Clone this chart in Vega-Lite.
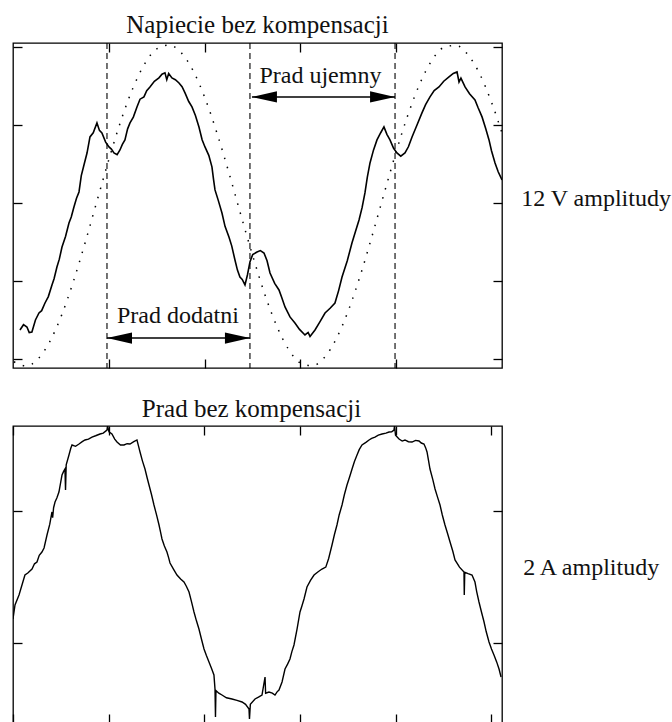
{
  "$schema": "https://vega.github.io/schema/vega-lite/v6.json",
  "padding": {"left": 11, "top": 12, "right": 0, "bottom": 0},
  "background": "white",
  "spacing": 26,
  "config": {
    "view": {"stroke": "black", "strokeWidth": 1.3},
    "font": "Liberation Serif",
    "title": {"font": "Liberation Serif", "fontSize": 25, "fontWeight": "normal", "color": "#111", "baseline": "alphabetic", "offset": 4},
    "axis": {"domain": false, "labels": false, "grid": false, "ticks": true, "tickSize": -9, "tickColor": "black", "tickWidth": 1.3, "tickCap": "butt", "title": null, "titleFont": "Liberation Serif", "titleFontSize": 24, "titleFontWeight": "normal", "titleColor": "#111"}
  },
  "datasets": {
    "napiecie": [
      {"t":0.063,"u":-1.628},{"t":0.10,"u":-1.56},{"t":0.136,"u":-1.590},{"t":0.16,"u":-1.66},{"t":0.188,"u":-1.654},{"t":0.225,"u":-1.50},{"t":0.262,"u":-1.410},{"t":0.29,"u":-1.38},{"t":0.325,"u":-1.282},{"t":0.36,"u":-1.20},{"t":0.398,"u":-1.051},{"t":0.42,"u":-0.97},{"t":0.450,"u":-0.821},{"t":0.475,"u":-0.72},{"t":0.503,"u":-0.564},{"t":0.54,"u":-0.43},{"t":0.576,"u":-0.256},{"t":0.60,"u":-0.18},{"t":0.628,"u":-0.051},{"t":0.655,"u":0.06},{"t":0.681,"u":0.141},{"t":0.705,"u":0.35},{"t":0.733,"u":0.487},{"t":0.765,"u":0.64},{"t":0.796,"u":0.846},{"t":0.83,"u":0.90},{"t":0.869,"u":1.026},{"t":0.895,"u":0.93},{"t":0.921,"u":0.897},{"t":0.96,"u":0.78},{"t":0.995,"u":0.718},{"t":1.02,"u":0.69},{"t":1.047,"u":0.641},{"t":1.08,"u":0.62},{"t":1.110,"u":0.679},{"t":1.135,"u":0.75},{"t":1.162,"u":0.808},{"t":1.19,"u":0.95},{"t":1.215,"u":1.026},{"t":1.25,"u":1.10},{"t":1.288,"u":1.231},{"t":1.32,"u":1.33},{"t":1.361,"u":1.359},{"t":1.39,"u":1.44},{"t":1.424,"u":1.487},{"t":1.47,"u":1.56},{"t":1.518,"u":1.603},{"t":1.55,"u":1.65},{"t":1.581,"u":1.667},{"t":1.60,"u":1.58},{"t":1.62,"u":1.66},{"t":1.654,"u":1.603},{"t":1.69,"u":1.58},{"t":1.728,"u":1.538},{"t":1.76,"u":1.49},{"t":1.791,"u":1.410},{"t":1.83,"u":1.30},{"t":1.864,"u":1.231},{"t":1.90,"u":1.12},{"t":1.937,"u":0.974},{"t":1.97,"u":0.81},{"t":2.0,"u":0.718},{"t":2.04,"u":0.61},{"t":2.073,"u":0.462},{"t":2.09,"u":0.30},{"t":2.105,"u":0.167},{"t":2.14,"u":0.03},{"t":2.178,"u":-0.128},{"t":2.21,"u":-0.30},{"t":2.251,"u":-0.436},{"t":2.28,"u":-0.55},{"t":2.314,"u":-0.731},{"t":2.34,"u":-0.86},{"t":2.366,"u":-0.949},{"t":2.39,"u":-0.98},{"t":2.419,"u":-1.051},{"t":2.445,"u":-0.92},{"t":2.471,"u":-0.756},{"t":2.50,"u":-0.66},{"t":2.545,"u":-0.628},{"t":2.58,"u":-0.61},{"t":2.618,"u":-0.641},{"t":2.65,"u":-0.74},{"t":2.681,"u":-0.897},{"t":2.73,"u":-1.03},{"t":2.775,"u":-1.115},{"t":2.80,"u":-1.20},{"t":2.838,"u":-1.333},{"t":2.89,"u":-1.46},{"t":2.942,"u":-1.538},{"t":2.99,"u":-1.62},{"t":3.047,"u":-1.692},{"t":3.08,"u":-1.66},{"t":3.10,"u":-1.71},{"t":3.152,"u":-1.628},{"t":3.20,"u":-1.53},{"t":3.257,"u":-1.410},{"t":3.31,"u":-1.35},{"t":3.361,"u":-1.282},{"t":3.40,"u":-1.12},{"t":3.435,"u":-0.949},{"t":3.49,"u":-0.74},{"t":3.539,"u":-0.513},{"t":3.575,"u":-0.37},{"t":3.613,"u":-0.218},{"t":3.645,"u":-0.06},{"t":3.675,"u":0.128},{"t":3.70,"u":0.33},{"t":3.728,"u":0.513},{"t":3.765,"u":0.68},{"t":3.801,"u":0.808},{"t":3.84,"u":0.90},{"t":3.874,"u":0.974},{"t":3.905,"u":0.88},{"t":3.937,"u":0.808},{"t":3.975,"u":0.70},{"t":4.010,"u":0.641},{"t":4.05,"u":0.60},{"t":4.094,"u":0.641},{"t":4.13,"u":0.72},{"t":4.168,"u":0.846},{"t":4.22,"u":1.00},{"t":4.272,"u":1.154},{"t":4.31,"u":1.26},{"t":4.356,"u":1.359},{"t":4.40,"u":1.44},{"t":4.450,"u":1.487},{"t":4.50,"u":1.56},{"t":4.555,"u":1.615},{"t":4.60,"u":1.66},{"t":4.639,"u":1.679},{"t":4.66,"u":1.55},{"t":4.68,"u":1.60},{"t":4.723,"u":1.487},{"t":4.77,"u":1.40},{"t":4.827,"u":1.321},{"t":4.86,"u":1.22},{"t":4.901,"u":1.103},{"t":4.94,"u":0.95},{"t":4.974,"u":0.808},{"t":5.00,"u":0.67},{"t":5.037,"u":0.513},{"t":5.07,"u":0.40},{"t":5.110,"u":0.295}
    ],
    "zasilanie": [
      {"t":0.0,"u":-2.035},{"t":0.125,"u":-2.089},{"t":0.25,"u":-2.001},{"t":0.375,"u":-1.777},{"t":0.5,"u":-1.434},{"t":0.625,"u":-0.995},{"t":0.75,"u":-0.489},{"t":0.875,"u":0.050},{"t":1.0,"u":0.583},{"t":1.125,"u":1.073},{"t":1.25,"u":1.485},{"t":1.375,"u":1.796},{"t":1.5,"u":1.979},{"t":1.625,"u":2.024},{"t":1.75,"u":1.927},{"t":1.875,"u":1.697},{"t":2.0,"u":1.345},{"t":2.125,"u":0.898},{"t":2.25,"u":0.390},{"t":2.375,"u":-0.151},{"t":2.5,"u":-0.678},{"t":2.625,"u":-1.166},{"t":2.75,"u":-1.573},{"t":2.875,"u":-1.876},{"t":3.0,"u":-2.051},{"t":3.125,"u":-2.086},{"t":3.25,"u":-1.981},{"t":3.375,"u":-1.740},{"t":3.5,"u":-1.382},{"t":3.625,"u":-0.934},{"t":3.75,"u":-0.421},{"t":3.875,"u":0.118},{"t":4.0,"u":0.649},{"t":4.125,"u":1.129},{"t":4.25,"u":1.530},{"t":4.375,"u":1.826},{"t":4.5,"u":1.993},{"t":4.625,"u":2.020},{"t":4.75,"u":1.905},{"t":4.875,"u":1.658},{"t":5.0,"u":1.291},{"t":5.11,"u":0.898}
    ],
    "granice": [{"t":0.974},{"t":2.471},{"t":3.990}],
    "strzalki": [
      {"t0":2.492,"t1":3.990,"u":1.359},
      {"t0":0.974,"t1":2.471,"u":-1.731}
    ],
    "groty": [
      {"t":2.492,"u":1.359,"kier":"lewo"},
      {"t":3.990,"u":1.359,"kier":"prawo"},
      {"t":0.974,"u":-1.731,"kier":"lewo"},
      {"t":2.471,"u":-1.731,"kier":"prawo"}
    ],
    "opisy": [
      {"t":3.209,"u":1.538,"label":"Prad ujemny"},
      {"t":1.717,"u":-1.538,"label":"Prad dodatni"}
    ],
    "prad": [
      {"t":-0.005,"i":-0.636},{"t":0.016,"i":-0.424},{"t":0.058,"i":-0.273},{"t":0.089,"i":-0.121},{"t":0.120,"i":0.030},{"t":0.15,"i":0.06},{"t":0.194,"i":0.121},{"t":0.22,"i":0.20},{"t":0.246,"i":0.227},{"t":0.27,"i":0.33},{"t":0.298,"i":0.379},{"t":0.32,"i":0.44},{"t":0.351,"i":0.636},{"t":0.38,"i":0.80},{"t":0.403,"i":0.985},{"t":0.41,"i":0.90},{"t":0.42,"i":1.05},{"t":0.435,"i":1.136},{"t":0.455,"i":1.20},{"t":0.476,"i":1.288},{"t":0.49,"i":1.40},{"t":0.508,"i":1.545},{"t":0.525,"i":1.60},{"t":0.539,"i":1.636},{"t":0.545,"i":1.318},{"t":0.552,"i":1.70},{"t":0.581,"i":1.848},{"t":0.60,"i":1.95},{"t":0.613,"i":2.0},{"t":0.65,"i":1.98},{"t":0.686,"i":2.015},{"t":0.72,"i":2.05},{"t":0.749,"i":2.076},{"t":0.785,"i":2.09},{"t":0.822,"i":2.121},{"t":0.86,"i":2.14},{"t":0.906,"i":2.167},{"t":0.94,"i":2.18},{"t":0.979,"i":2.227},{"t":0.985,"i":2.29},{"t":1.0,"i":2.20},{"t":1.031,"i":2.167},{"t":1.06,"i":2.09},{"t":1.084,"i":2.045},{"t":1.12,"i":2.00},{"t":1.157,"i":2.0},{"t":1.19,"i":2.02},{"t":1.220,"i":2.015},{"t":1.26,"i":2.05},{"t":1.293,"i":2.076},{"t":1.31,"i":1.98},{"t":1.325,"i":1.894},{"t":1.35,"i":1.76},{"t":1.377,"i":1.636},{"t":1.40,"i":1.50},{"t":1.419,"i":1.394},{"t":1.445,"i":1.25},{"t":1.471,"i":1.091},{"t":1.50,"i":0.93},{"t":1.524,"i":0.788},{"t":1.54,"i":0.68},{"t":1.555,"i":0.576},{"t":1.58,"i":0.47},{"t":1.607,"i":0.379},{"t":1.625,"i":0.29},{"t":1.639,"i":0.212},{"t":1.675,"i":0.12},{"t":1.712,"i":0.030},{"t":1.75,"i":-0.03},{"t":1.785,"i":-0.076},{"t":1.81,"i":-0.14},{"t":1.838,"i":-0.227},{"t":1.865,"i":-0.38},{"t":1.890,"i":-0.530},{"t":1.915,"i":-0.66},{"t":1.942,"i":-0.788},{"t":1.97,"i":-0.95},{"t":1.995,"i":-1.091},{"t":2.02,"i":-1.19},{"t":2.047,"i":-1.288},{"t":2.075,"i":-1.39},{"t":2.099,"i":-1.485},{"t":2.105,"i":-1.60},{"t":2.110,"i":-1.697},{"t":2.115,"i":-2.121},{"t":2.12,"i":-1.72},{"t":2.15,"i":-1.76},{"t":2.183,"i":-1.788},{"t":2.23,"i":-1.83},{"t":2.288,"i":-1.848},{"t":2.34,"i":-1.87},{"t":2.393,"i":-1.894},{"t":2.43,"i":-1.93},{"t":2.466,"i":-2.0},{"t":2.471,"i":-2.152},{"t":2.48,"i":-1.93},{"t":2.529,"i":-1.848},{"t":2.565,"i":-1.82},{"t":2.602,"i":-1.788},{"t":2.634,"i":-1.515},{"t":2.64,"i":-1.76},{"t":2.675,"i":-1.742},{"t":2.71,"i":-1.76},{"t":2.738,"i":-1.788},{"t":2.760,"i":-1.74},{"t":2.780,"i":-1.712},{"t":2.812,"i":-1.591},{"t":2.843,"i":-1.394},{"t":2.87,"i":-1.32},{"t":2.895,"i":-1.242},{"t":2.915,"i":-1.13},{"t":2.937,"i":-1.030},{"t":2.969,"i":-0.788},{"t":3.0,"i":-0.530},{"t":3.02,"i":-0.44},{"t":3.042,"i":-0.333},{"t":3.073,"i":-0.152},{"t":3.11,"i":-0.05},{"t":3.147,"i":0.030},{"t":3.19,"i":0.08},{"t":3.230,"i":0.121},{"t":3.27,"i":0.15},{"t":3.30,"i":0.28},{"t":3.335,"i":0.485},{"t":3.36,"i":0.64},{"t":3.387,"i":0.788},{"t":3.41,"i":0.94},{"t":3.440,"i":1.091},{"t":3.465,"i":1.25},{"t":3.492,"i":1.394},{"t":3.52,"i":1.52},{"t":3.545,"i":1.636},{"t":3.57,"i":1.75},{"t":3.597,"i":1.848},{"t":3.62,"i":1.93},{"t":3.649,"i":2.0},{"t":3.69,"i":2.04},{"t":3.723,"i":2.076},{"t":3.75,"i":2.10},{"t":3.785,"i":2.121},{"t":3.82,"i":2.15},{"t":3.859,"i":2.167},{"t":3.90,"i":2.18},{"t":3.932,"i":2.197},{"t":3.96,"i":2.20},{"t":3.984,"i":2.227},{"t":3.99,"i":2.29},{"t":4.0,"i":2.15},{"t":4.037,"i":2.091},{"t":4.07,"i":2.06},{"t":4.099,"i":2.076},{"t":4.135,"i":2.05},{"t":4.173,"i":2.045},{"t":4.21,"i":2.07},{"t":4.246,"i":2.061},{"t":4.27,"i":2.03},{"t":4.298,"i":2.015},{"t":4.315,"i":1.96},{"t":4.330,"i":1.894},{"t":4.345,"i":1.77},{"t":4.361,"i":1.636},{"t":4.39,"i":1.48},{"t":4.414,"i":1.333},{"t":4.44,"i":1.21},{"t":4.466,"i":1.091},{"t":4.49,"i":0.94},{"t":4.518,"i":0.788},{"t":4.545,"i":0.66},{"t":4.571,"i":0.530},{"t":4.60,"i":0.39},{"t":4.623,"i":0.258},{"t":4.67,"i":0.15},{"t":4.717,"i":0.076},{"t":4.72,"i":-0.273},{"t":4.725,"i":0.07},{"t":4.76,"i":0.05},{"t":4.801,"i":0.030},{"t":4.832,"i":-0.076},{"t":4.85,"i":-0.22},{"t":4.874,"i":-0.379},{"t":4.90,"i":-0.53},{"t":4.927,"i":-0.682},{"t":4.95,"i":-0.83},{"t":4.979,"i":-0.985},{"t":5.005,"i":-1.09},{"t":5.031,"i":-1.182},{"t":5.06,"i":-1.29},{"t":5.084,"i":-1.394},{"t":5.105,"i":-1.515}
    ]
  },
  "vconcat": [
    {
      "width": 489,
      "height": 325,
      "title": {"text": "Napiecie bez kompensacji"},
      "layer": [
        {
          "data": {"name": "napiecie"},
          "mark": {"type": "line", "color": "black", "strokeWidth": 1.6, "clip": true},
          "encoding": {
            "x": {"field": "t", "type": "quantitative", "scale": {"domain": [-0.01, 5.11], "nice": false, "zero": false}, "axis": {"orient": "bottom", "values": [1, 2, 3, 4]}},
            "y": {"field": "u", "type": "quantitative", "scale": {"domain": [-2.115, 2.05], "nice": false, "zero": false}, "axis": {"orient": "left", "values": [-2, -1, 0, 1, 2]}}
          }
        },
        {
          "data": {"name": "zasilanie"},
          "mark": {"type": "line", "color": "black", "strokeWidth": 1.5, "strokeDash": [1.5, 8], "strokeCap": "butt", "interpolate": "monotone", "clip": true},
          "encoding": {
            "x": {"field": "t", "type": "quantitative", "scale": {"domain": [-0.01, 5.11], "nice": false, "zero": false}, "axis": {"orient": "top", "values": [1, 2, 3, 4]}},
            "y": {"field": "u", "type": "quantitative", "scale": {"domain": [-2.115, 2.05], "nice": false, "zero": false}, "axis": {"orient": "right", "values": [-2, -1, 0, 1, 2], "title": "12 V amplitudy", "titleAngle": 0, "titleAlign": "left", "titleBaseline": "alphabetic", "titlePadding": 18}}
          }
        },
        {
          "data": {"name": "granice"},
          "mark": {"type": "rule", "color": "black", "strokeWidth": 1.1, "strokeDash": [6, 4]},
          "encoding": {
            "x": {"field": "t", "type": "quantitative", "axis": null}
          }
        },
        {
          "data": {"name": "strzalki"},
          "mark": {"type": "rule", "color": "black", "strokeWidth": 1.5},
          "encoding": {
            "x": {"field": "t0", "type": "quantitative", "axis": null},
            "x2": {"field": "t1"},
            "y": {"field": "u", "type": "quantitative", "axis": null}
          }
        },
        {
          "data": {"name": "groty"},
          "mark": {"type": "point", "filled": true, "color": "black", "opacity": 1, "size": 625},
          "encoding": {
            "x": {"field": "t", "type": "quantitative", "axis": null},
            "y": {"field": "u", "type": "quantitative", "axis": null},
            "shape": {"field": "kier", "type": "nominal", "scale": {"domain": ["lewo", "prawo"], "range": ["M0,0L2,-0.45L2,0.45Z", "M0,0L-2,-0.45L-2,0.45Z"]}, "legend": null}
          }
        },
        {
          "data": {"name": "opisy"},
          "mark": {"type": "text", "font": "Liberation Serif", "fontSize": 24, "align": "center", "baseline": "alphabetic", "color": "#111"},
          "encoding": {
            "x": {"field": "t", "type": "quantitative", "axis": null},
            "y": {"field": "u", "type": "quantitative", "axis": null},
            "text": {"field": "label"}
          }
        }
      ],
      "resolve": {"axis": {"x": "independent", "y": "independent"}}
    },
    {
      "width": 489,
      "height": 297,
      "title": {"text": "Prad bez kompensacji", "dx": -6, "offset": 3},
      "layer": [
        {
          "data": {"name": "prad"},
          "mark": {"type": "line", "color": "black", "strokeWidth": 1.4, "clip": true},
          "encoding": {
            "x": {"field": "t", "type": "quantitative", "scale": {"domain": [-0.005, 5.115], "nice": false, "zero": false}, "axis": {"orient": "bottom", "values": [0, 1, 2, 3, 4, 5]}},
            "y": {"field": "i", "type": "quantitative", "scale": {"domain": [-2.212, 2.288], "nice": false, "zero": false}, "axis": {"orient": "left", "values": [-1, 1]}}
          }
        },
        {
          "data": {"name": "prad"},
          "mark": {"type": "line", "color": "black", "strokeOpacity": 0, "clip": true},
          "encoding": {
            "x": {"field": "t", "type": "quantitative", "scale": {"domain": [-0.005, 5.115], "nice": false, "zero": false}, "axis": {"orient": "top", "values": [0, 1, 2, 3, 4, 5]}},
            "y": {"field": "i", "type": "quantitative", "scale": {"domain": [-2.212, 2.288], "nice": false, "zero": false}, "axis": {"orient": "right", "values": [-1, 1], "title": "2 A amplitudy", "titleAngle": 0, "titleAlign": "left", "titleBaseline": "alphabetic", "titlePadding": 20}}
          }
        }
      ],
      "resolve": {"axis": {"x": "independent", "y": "independent"}}
    }
  ]
}
